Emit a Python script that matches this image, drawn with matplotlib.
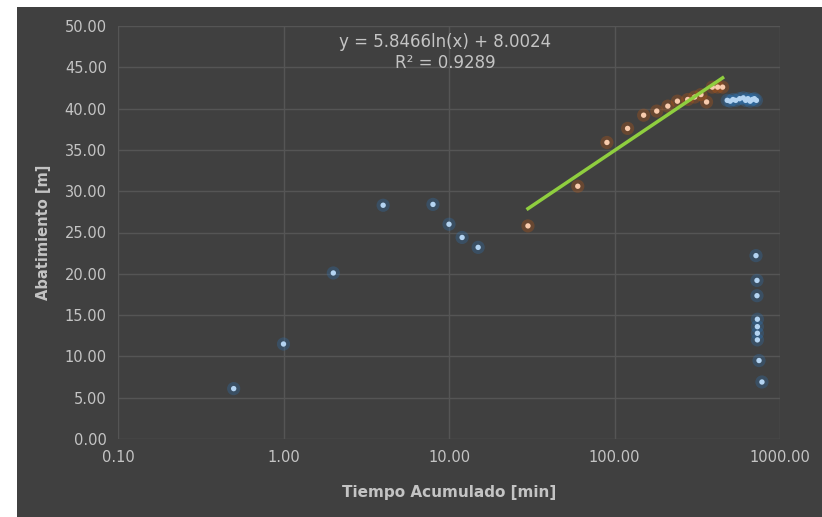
import matplotlib.pyplot as plt
import numpy as np
from matplotlib.patches import Rectangle
from matplotlib.ticker import FixedLocator, FixedFormatter, NullLocator

# early pumping data (blue)
blue_t = [0.5, 1.0, 2.0, 4.0, 8.0, 10.0, 12.0, 15.0,
          480, 500, 520, 540, 570, 600, 620, 640, 660, 680, 700, 720,
          716, 726, 726, 730, 730, 730, 730, 747, 778]
blue_s = [6.1, 11.5, 20.1, 28.3, 28.4, 26.0, 24.4, 23.2,
          41.0, 40.9, 41.1, 41.0, 41.2, 41.3, 41.0, 41.2, 40.9, 41.1, 41.2, 41.0,
          22.2, 19.2, 17.35, 14.5, 13.6, 12.8, 12.0, 9.5, 6.9]

# points used for the trend line (orange)
orange_t = [30, 60, 90, 120, 150, 180, 210, 240, 277, 305, 333, 360, 390, 420, 450]
orange_s = [25.8, 30.6, 35.9, 37.6, 39.2, 39.7, 40.3, 40.9, 41.1, 41.4, 41.7,
            40.8, 42.6, 42.6, 42.6]

fit_a = 5.8466
fit_b = 8.0024
fit_r2 = 0.9289

x_ticks = [0.1, 1, 10, 100, 1000]
x_labels = ['0.10', '1.00', '10.00', '100.00', '1000.00']
y_ticks = np.arange(0, 51, 5)

bg = '#404040'
grid_c = '#555555'
text_c = '#c4c4c4'

fig = plt.figure(figsize=(8.22, 5.17), dpi=100, facecolor='white')
fig.patches.append(Rectangle((17 / 822, 0), 1, 1 - 7 / 517, transform=fig.transFigure,
                             facecolor=bg, edgecolor='none', zorder=-10))
ax = fig.add_axes([118 / 822, 1 - 439 / 517, 662 / 822, 413 / 517])
ax.set_facecolor(bg)

ax.set_xscale('log')
ax.set_xlim(0.1, 1000)
ax.set_ylim(0, 50)
ax.xaxis.set_major_locator(FixedLocator(x_ticks))
ax.xaxis.set_major_formatter(FixedFormatter(x_labels))
ax.xaxis.set_minor_locator(NullLocator())
ax.set_yticks(y_ticks)
ax.set_yticklabels(['%.2f' % v for v in y_ticks])
ax.grid(True, color=grid_c, lw=1.0)
ax.set_axisbelow(True)
for sp in ax.spines.values():
    sp.set_visible(False)
ax.tick_params(length=0, colors=text_c, labelsize=10.5, pad=8)

# glow + dot
ax.scatter(blue_t, blue_s, s=90, color='#2e75b6', alpha=0.3, edgecolors='none', zorder=3)
ax.scatter(blue_t, blue_s, s=15, color='#b4d4f2', edgecolors='none', zorder=4)
ax.scatter(orange_t, orange_s, s=90, color='#c55a11', alpha=0.3, edgecolors='none', zorder=3)
ax.scatter(orange_t, orange_s, s=15, color='#f8cbad', edgecolors='none', zorder=4)

xf = np.array([min(orange_t), max(orange_t)])
ax.plot(xf, fit_a * np.log(xf) + fit_b, color='#8fce3f', lw=2.5, zorder=5)

ax.text(9.5, 48.1, 'y = %.4fln(x) + %.4f' % (fit_a, fit_b), color=text_c,
        fontsize=12, ha='center', va='center', family='Liberation Sans Narrow')
ax.text(9.5, 45.5, 'R² = %.4f' % fit_r2, color=text_c,
        fontsize=12, ha='center', va='center', family='Liberation Sans Narrow')

ax.set_xlabel('Tiempo Acumulado [min]', color=text_c, fontsize=11, fontweight='bold',
              family='Liberation Sans Narrow', labelpad=14)
ax.set_ylabel('Abatimiento [m]', color=text_c, fontsize=10.5, fontweight='bold', labelpad=10)

fig.savefig('out.png', dpi=100, facecolor='white')
